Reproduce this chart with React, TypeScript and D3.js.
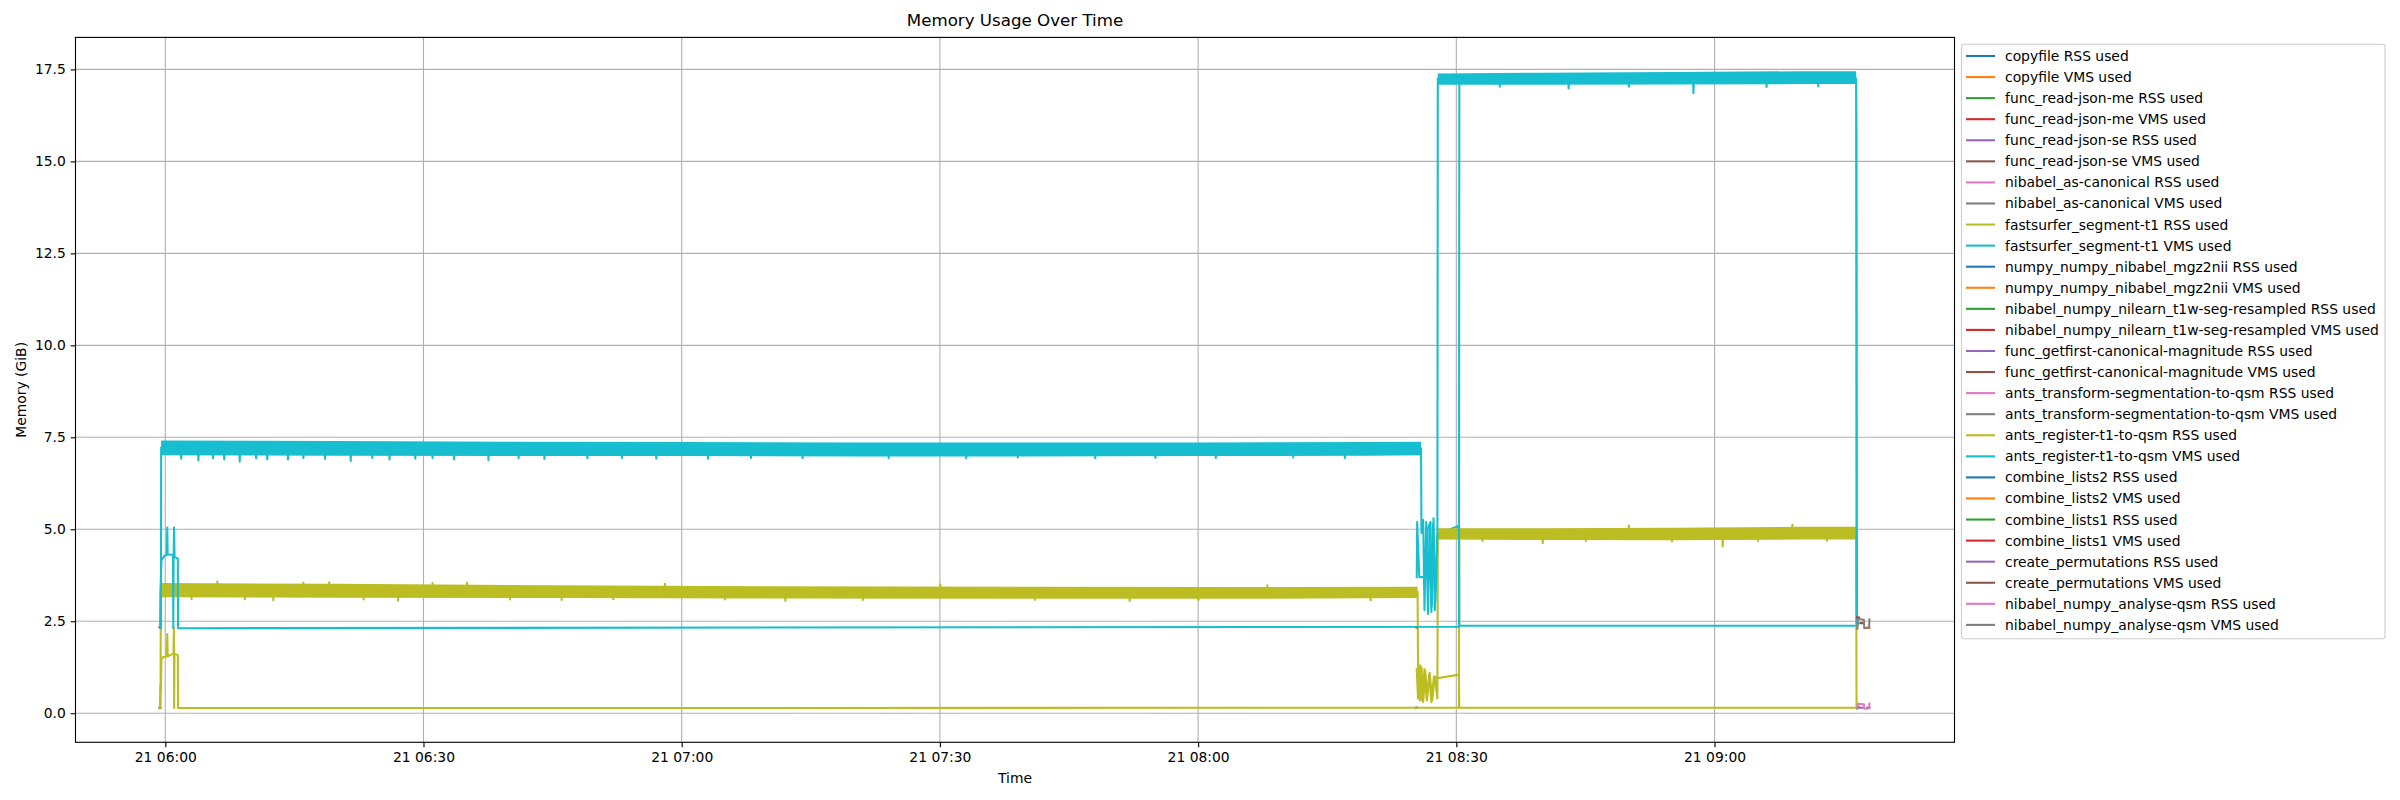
import { useEffect, useRef } from 'react'
import * as d3 from 'd3'

// [minutes after 06:00, GiB]
type Pt = [number, number]
// [minutes after 06:00, low GiB, high GiB] — envelope of a densely sampled, jittery stretch
type BandPt = [number, number, number]

const startTime = new Date(2024, 4, 21, 6, 0, 0)
const GAP: Pt = [NaN, NaN]

const xTickMinutes = [0, 30, 60, 90, 120, 150, 180]
const yTicks = [0, 2.5, 5, 7.5, 10, 12.5, 15, 17.5]

const palette = ['#1f77b4', '#ff7f0e', '#2ca02c', '#d62728', '#9467bd', '#8c564b', '#e377c2', '#7f7f7f', '#bcbd22', '#17becf']

const labels = [
  'copyfile RSS used',
  'copyfile VMS used',
  'func_read-json-me RSS used',
  'func_read-json-me VMS used',
  'func_read-json-se RSS used',
  'func_read-json-se VMS used',
  'nibabel_as-canonical RSS used',
  'nibabel_as-canonical VMS used',
  'fastsurfer_segment-t1 RSS used',
  'fastsurfer_segment-t1 VMS used',
  'numpy_numpy_nibabel_mgz2nii RSS used',
  'numpy_numpy_nibabel_mgz2nii VMS used',
  'nibabel_numpy_nilearn_t1w-seg-resampled RSS used',
  'nibabel_numpy_nilearn_t1w-seg-resampled VMS used',
  'func_getfirst-canonical-magnitude RSS used',
  'func_getfirst-canonical-magnitude VMS used',
  'ants_transform-segmentation-to-qsm RSS used',
  'ants_transform-segmentation-to-qsm VMS used',
  'ants_register-t1-to-qsm RSS used',
  'ants_register-t1-to-qsm VMS used',
  'combine_lists2 RSS used',
  'combine_lists2 VMS used',
  'combine_lists1 RSS used',
  'combine_lists1 VMS used',
  'create_permutations RSS used',
  'create_permutations VMS used',
  'nibabel_numpy_analyse-qsm RSS used',
  'nibabel_numpy_analyse-qsm VMS used',
]

const copyfileRss: Pt[] = [[-0.64, 0.14], [-0.6, 0.14]]
const copyfileVms: Pt[] = [[-0.64, 2.33], [-0.6, 2.33]]
const readJsonMeRss: Pt[] = [[-0.68, 0.14], [-0.6, 0.15]]
const readJsonMeVms: Pt[] = [[-0.68, 2.34], [-0.6, 2.36]]
const readJsonSeRss: Pt[] = [[-0.6, 0.14], [-0.57, 0.14]]
const readJsonSeVms: Pt[] = [[-0.6, 2.32], [-0.57, 2.32]]
const asCanonicalRss: Pt[] = [[-0.59, 0.14], [-0.56, 0.14]]
const asCanonicalVms: Pt[] = [[-0.59, 2.32], [-0.56, 2.32]]

const fastsurferRss: Pt[] = [
  [-0.55, 0.14], [-0.52, 3.35],
  [3.0, 3.34], [3.05, 3.1], [3.1, 3.34],
  [6.0, 3.34], [6.05, 3.58], [6.1, 3.34],
  [9.2, 3.34], [9.25, 3.1], [9.3, 3.34],
  [12.5, 3.33], [12.55, 3.07], [12.6, 3.33],
  [16.0, 3.33], [16.05, 3.55], [16.1, 3.33],
  [19.0, 3.33], [19.05, 3.56], [19.1, 3.33],
  [23.0, 3.32], [23.05, 3.09], [23.1, 3.32],
  [27.0, 3.32], [27.05, 3.06], [27.1, 3.32],
  [31.0, 3.32], [31.05, 3.54], [31.1, 3.32],
  [35.0, 3.32], [35.05, 3.55], [35.1, 3.32],
  [40.0, 3.31], [40.05, 3.09], [40.1, 3.31],
  [46.0, 3.31], [46.05, 3.08], [46.1, 3.31],
  [52.0, 3.3], [52.05, 3.1], [52.1, 3.3],
  [58.0, 3.3], [58.05, 3.52], [58.1, 3.3],
  [65.0, 3.29], [65.05, 3.09], [65.1, 3.29],
  [72.0, 3.29], [72.05, 3.05], [72.1, 3.29],
  [81.0, 3.28], [81.05, 3.08], [81.1, 3.28],
  [90.0, 3.28], [90.05, 3.5], [90.1, 3.28],
  [101.0, 3.27], [101.05, 3.08], [101.1, 3.27],
  [112.0, 3.27], [112.05, 3.05], [112.1, 3.27],
  [120.0, 3.27], [120.05, 3.08], [120.1, 3.27],
  [128.0, 3.27], [128.05, 3.48], [128.1, 3.27],
  [140.0, 3.27], [140.05, 3.07], [140.1, 3.27],
  [145.5, 3.3], [145.55, 1.3], [145.75, 0.35], [145.95, 1.25], [146.15, 0.3], [146.4, 1.15],
  [146.6, 0.35], [146.85, 1.05], [147.1, 0.3], [147.4, 1.0], [147.8, 0.95],
  [150.3, 1.05], [150.35, 0.15], [196.55, 0.15],
]
const fastsurferRssBand: BandPt[] = [
  [-0.52, 3.15, 3.54], [20, 3.14, 3.52], [45, 3.13, 3.48], [70, 3.12, 3.45],
  [100, 3.11, 3.44], [125, 3.11, 3.43], [145.5, 3.13, 3.44],
]

const fastsurferVms: Pt[] = [
  [-0.5, 2.32], [-0.48, 7.22],
  [1.8, 7.2], [1.85, 6.92], [1.9, 7.2],
  [3.8, 7.2], [3.85, 6.87], [3.9, 7.2],
  [5.5, 7.2], [5.55, 6.93], [5.6, 7.2],
  [6.8, 7.2], [6.85, 6.9], [6.9, 7.2],
  [8.6, 7.2], [8.65, 6.84], [8.7, 7.2],
  [10.5, 7.2], [10.55, 6.93], [10.6, 7.2],
  [11.8, 7.2], [11.85, 6.9], [11.9, 7.2],
  [14.2, 7.2], [14.25, 6.9], [14.3, 7.2],
  [16.0, 7.2], [16.05, 6.94], [16.1, 7.2],
  [18.5, 7.2], [18.55, 6.91], [18.6, 7.2],
  [21.5, 7.2], [21.55, 6.86], [21.6, 7.2],
  [24.0, 7.2], [24.05, 6.94], [24.1, 7.2],
  [26.0, 7.2], [26.05, 6.9], [26.1, 7.2],
  [29.0, 7.2], [29.05, 6.92], [29.1, 7.2],
  [31.0, 7.2], [31.05, 6.94], [31.1, 7.2],
  [33.5, 7.2], [33.55, 6.9], [33.6, 7.2],
  [37.5, 7.2], [37.55, 6.88], [37.6, 7.2],
  [41.0, 7.19], [41.05, 6.93], [41.1, 7.19],
  [44.0, 7.19], [44.05, 6.91], [44.1, 7.19],
  [49.0, 7.19], [49.05, 6.93], [49.1, 7.19],
  [53.0, 7.19], [53.05, 6.94], [53.1, 7.19],
  [57.0, 7.18], [57.05, 6.92], [57.1, 7.18],
  [63.0, 7.18], [63.05, 6.92], [63.1, 7.18],
  [68.0, 7.18], [68.05, 6.94], [68.1, 7.18],
  [74.0, 7.17], [74.05, 6.93], [74.1, 7.17],
  [84.0, 7.17], [84.05, 6.94], [84.1, 7.17],
  [93.0, 7.17], [93.05, 6.93], [93.1, 7.17],
  [99.0, 7.17], [99.05, 6.95], [99.1, 7.17],
  [108.0, 7.17], [108.05, 6.93], [108.1, 7.17],
  [115.0, 7.17], [115.05, 6.94], [115.1, 7.17],
  [122.0, 7.17], [122.05, 6.94], [122.1, 7.17],
  [131.0, 7.18], [131.05, 6.95], [131.1, 7.18],
  [137.0, 7.18], [137.05, 6.94], [137.1, 7.18],
  [145.9, 7.2],
  [145.95, 4.9], [146.15, 5.25], [146.3, 2.8], [146.5, 5.2], [146.7, 2.7], [146.9, 5.1],
  [147.1, 2.75], [147.3, 5.15], [147.5, 2.8], [147.8, 4.85],
  [150.3, 5.1], [150.35, 2.38], [196.55, 2.38], [196.6, 2.45],
]
const fastsurferVmsBand: BandPt[] = [
  [-0.48, 7.01, 7.41], [20, 7.0, 7.4], [40, 6.99, 7.38], [60, 6.99, 7.37],
  [80, 6.98, 7.36], [100, 6.98, 7.36], [120, 6.99, 7.36], [140, 7.0, 7.37], [145.9, 7.01, 7.38],
]

const mgz2niiRss: Pt[] = [[145.3, 0.15], [145.35, 0.15]]
const mgz2niiVms: Pt[] = [[145.3, 2.34], [145.35, 2.34]]
const nilearnRss: Pt[] = [[145.35, 0.15], [145.4, 0.15]]
const nilearnVms: Pt[] = [[145.35, 2.34], [145.4, 2.34]]
const getfirstRss: Pt[] = [[145.4, 0.15], [145.45, 0.15]]
const getfirstVms: Pt[] = [[145.4, 2.34], [145.45, 2.34]]
const antsTransformRss: Pt[] = [[196.55, 0.16], [196.75, 0.18]]
const antsTransformVms: Pt[] = [[196.55, 2.42], [196.75, 2.45]]

const antsRegisterRss: Pt[] = [
  [-0.62, 0.14], [-0.57, 0.75], [-0.52, 0.55], [-0.45, 1.45], [-0.3, 1.52], [0.18, 1.55],
  [0.23, 2.15], [0.28, 1.55], [0.95, 1.62], [1.0, 2.32], [1.03, 0.14], [1.07, 1.62],
  [1.46, 1.58], [1.48, 0.14],
  [150.3, 0.15], [150.35, 4.9], [196.45, 4.9], [196.5, 0.15],
  GAP,
  [145.4, 1.2], [145.55, 0.4], [145.8, 1.3], [146.0, 0.35], [146.3, 1.2], [146.55, 0.4],
  [146.9, 1.1], [147.2, 0.35], [147.5, 1.0], [147.8, 0.4], [147.85, 4.9],
  [153.0, 4.9], [153.05, 4.68], [153.1, 4.9],
  [160.0, 4.9], [160.05, 4.62], [160.1, 4.9],
  [165.0, 4.9], [165.05, 4.68], [165.1, 4.9],
  [170.0, 4.9], [170.05, 5.1], [170.1, 4.9],
  [175.0, 4.9], [175.05, 4.67], [175.1, 4.9],
  [180.9, 4.9], [180.95, 4.53], [181.0, 4.9],
  [185.0, 4.9], [185.05, 4.68], [185.1, 4.9],
  [189.0, 4.9], [189.05, 5.12], [189.1, 4.9],
  [193.0, 4.9], [193.05, 4.69], [193.1, 4.9],
  [196.45, 4.9], [196.5, 0.15],
]
const antsRegisterRssBand: BandPt[] = [
  [147.85, 4.72, 5.03], [160, 4.71, 5.03], [175, 4.7, 5.04], [190, 4.72, 5.07], [196.45, 4.72, 5.07],
]

const antsRegisterVms: Pt[] = [
  [-0.6, 2.32], [-0.55, 3.4], [-0.45, 4.15], [-0.1, 4.28], [0.18, 4.3], [0.23, 5.05], [0.28, 4.32],
  [0.9, 4.3], [0.93, 2.32], [0.97, 4.3], [1.02, 5.05], [1.08, 4.25], [1.46, 4.2], [1.48, 2.31],
  [150.3, 2.35], [150.35, 17.2], [196.45, 17.25], [196.5, 2.45],
  GAP,
  [145.4, 3.7], [145.45, 5.2], [145.7, 3.7], [146.6, 3.7], [146.65, 5.0], [147.0, 5.2],
  [147.15, 2.9], [147.35, 5.3], [147.55, 3.0], [147.8, 4.9], [147.85, 17.25],
  [155.0, 17.25], [155.05, 17.03], [155.1, 17.25],
  [163.0, 17.25], [163.05, 16.98], [163.1, 17.25],
  [170.0, 17.25], [170.05, 17.03], [170.1, 17.25],
  [177.5, 17.25], [177.55, 16.85], [177.6, 17.25],
  [186.0, 17.26], [186.05, 17.02], [186.1, 17.26],
  [192.0, 17.26], [192.05, 17.04], [192.1, 17.26],
  [196.45, 17.25], [196.5, 15.5], [196.55, 2.4],
]
const antsRegisterVmsBand: BandPt[] = [
  [147.85, 17.08, 17.39], [160, 17.08, 17.41], [175, 17.09, 17.43], [190, 17.1, 17.45], [196.45, 17.1, 17.45],
]

const combineLists2Rss: Pt[] = [[197.75, 0.15], [198.0, 0.15]]
const combineLists2Vms: Pt[] = [[197.75, 2.32], [198.0, 2.32]]
const combineLists1Rss: Pt[] = [[196.6, 0.15], [196.8, 0.15]]
const combineLists1Vms: Pt[] = [[196.55, 2.6], [196.8, 2.6]]
const createPermutationsRss: Pt[] = [[197.0, 0.15], [197.2, 0.15]]
const createPermutationsVms: Pt[] = [[197.0, 2.45], [197.2, 2.45]]
const analyseQsmRss: Pt[] = [[196.6, 0.12], [196.65, 0.26], [197.35, 0.24], [197.4, 0.12], [197.95, 0.13], [198.0, 0.26]]
const analyseQsmVms: Pt[] = [[196.6, 2.3], [196.65, 2.56], [197.35, 2.54], [197.4, 2.31], [197.95, 2.33], [198.0, 2.55]]

const seriesPoints: Pt[][] = [
  copyfileRss, copyfileVms, readJsonMeRss, readJsonMeVms, readJsonSeRss, readJsonSeVms,
  asCanonicalRss, asCanonicalVms, fastsurferRss, fastsurferVms, mgz2niiRss, mgz2niiVms,
  nilearnRss, nilearnVms, getfirstRss, getfirstVms, antsTransformRss, antsTransformVms,
  antsRegisterRss, antsRegisterVms, combineLists2Rss, combineLists2Vms, combineLists1Rss,
  combineLists1Vms, createPermutationsRss, createPermutationsVms, analyseQsmRss, analyseQsmVms,
]
const seriesBands: Record<number, BandPt[]> = {
  8: fastsurferRssBand,
  9: fastsurferVmsBand,
  18: antsRegisterRssBand,
  19: antsRegisterVmsBand,
}

const FONT = 'DejaVu Sans'

export default function App() {
  const svgRef = useRef<SVGSVGElement>(null)

  useEffect(() => {
    if (!svgRef.current) return
    const svg = d3.select(svgRef.current)
    svg.selectAll('*').remove()

    const width = 2400
    const height = 800
    const margin = { top: 37.4, right: 445.5, bottom: 57.7, left: 75.5 }
    const plotW = width - margin.left - margin.right
    const plotH = height - margin.top - margin.bottom

    const toDate = (m: number) => new Date(startTime.getTime() + m * 60000)

    const xScale = d3.scaleTime().domain([toDate(-10.43), toDate(207.88)]).range([0, plotW])
    const yScale = d3.scaleLinear().domain([-0.79, 18.37]).range([plotH, 0])

    svg.append('rect').attr('width', width).attr('height', height).attr('fill', '#fff')

    const g = svg.append('g').attr('transform', `translate(${margin.left},${margin.top})`)

    // grid
    g.append('g')
      .selectAll('line')
      .data(xTickMinutes)
      .join('line')
      .attr('x1', (d) => xScale(toDate(d)))
      .attr('x2', (d) => xScale(toDate(d)))
      .attr('y1', 0)
      .attr('y2', plotH)
      .attr('stroke', '#b0b0b0')
      .attr('stroke-width', 1.11)
    g.append('g')
      .selectAll('line')
      .data(yTicks)
      .join('line')
      .attr('x1', 0)
      .attr('x2', plotW)
      .attr('y1', (d) => yScale(d))
      .attr('y2', (d) => yScale(d))
      .attr('stroke', '#b0b0b0')
      .attr('stroke-width', 1.11)

    svg.append('defs').append('clipPath').attr('id', 'plot-clip')
      .append('rect').attr('width', plotW).attr('height', plotH)

    const lines = g.append('g').attr('clip-path', 'url(#plot-clip)')

    const line = d3
      .line<Pt>()
      .defined((d) => !isNaN(d[1]))
      .x((d) => xScale(toDate(d[0])))
      .y((d) => yScale(d[1]))

    const area = d3
      .area<BandPt>()
      .x((d) => xScale(toDate(d[0])))
      .y0((d) => yScale(d[1]))
      .y1((d) => yScale(d[2]))

    seriesPoints.forEach((pts, i) => {
      const color = palette[i % 10]
      const band = seriesBands[i]
      if (band) {
        lines.append('path').datum(band).attr('fill', color).attr('d', area)
      }
      lines
        .append('path')
        .datum(pts)
        .attr('fill', 'none')
        .attr('stroke', color)
        .attr('stroke-width', 2.08)
        .attr('stroke-linejoin', 'round')
        .attr('stroke-linecap', 'square')
        .attr('d', line)
    })

    // axes
    const xAxis = d3
      .axisBottom(xScale)
      .tickValues(xTickMinutes.map(toDate))
      .tickFormat((d) => d3.timeFormat('%d %H:%M')(d as Date))
      .tickSize(4.86)
      .tickPadding(4.86)
      .tickSizeOuter(0)
    const xg = g.append('g').attr('transform', `translate(0,${plotH})`).call(xAxis)
    xg.select('.domain').remove()

    const yAxis = d3
      .axisLeft(yScale)
      .tickValues(yTicks)
      .tickFormat((d) => d3.format('.1f')(d as number))
      .tickSize(4.86)
      .tickPadding(4.86)
      .tickSizeOuter(0)
    const yg = g.append('g').call(yAxis)
    yg.select('.domain').remove()

    ;[xg, yg].forEach((a) => {
      a.attr('font-family', FONT).attr('font-size', 13.89)
      a.selectAll('line').attr('stroke', '#000').attr('stroke-width', 1.11)
      a.selectAll('text').attr('fill', '#000')
    })

    // spines
    g.append('rect')
      .attr('width', plotW)
      .attr('height', plotH)
      .attr('fill', 'none')
      .attr('stroke', '#000')
      .attr('stroke-width', 1.11)

    // title and axis labels
    svg.append('text')
      .attr('x', margin.left + plotW / 2)
      .attr('y', 26)
      .attr('text-anchor', 'middle')
      .attr('font-family', FONT)
      .attr('font-size', 16.67)
      .text('Memory Usage Over Time')

    svg.append('text')
      .attr('x', margin.left + plotW / 2)
      .attr('y', 783)
      .attr('text-anchor', 'middle')
      .attr('font-family', FONT)
      .attr('font-size', 13.89)
      .text('Time')

    svg.append('text')
      .attr('transform', `translate(26,${margin.top + plotH / 2}) rotate(-90)`)
      .attr('text-anchor', 'middle')
      .attr('font-family', FONT)
      .attr('font-size', 13.89)
      .text('Memory (GiB)')

    // legend
    const lg = svg.append('g').attr('transform', 'translate(1961.5,44.3)')
    lg.append('rect')
      .attr('width', 423.5)
      .attr('height', 594.5)
      .attr('rx', 2.8)
      .attr('fill', '#fff')
      .attr('fill-opacity', 0.8)
      .attr('stroke', '#cccccc')
      .attr('stroke-width', 1.1)

    const items = lg
      .selectAll('g.item')
      .data(labels)
      .join('g')
      .attr('class', 'item')
      .attr('transform', (_, i) => `translate(0,${11.7 + i * 21.07})`)

    items.append('line')
      .attr('x1', 4.5)
      .attr('x2', 33.5)
      .attr('stroke', (_, i) => palette[i % 10])
      .attr('stroke-width', 2.08)

    items.append('text')
      .attr('x', 43.5)
      .attr('y', 5)
      .attr('font-family', FONT)
      .attr('font-size', 13.89)
      .attr('fill', '#000')
      .text((d) => d)
  }, [])

  return (
    <div style={{ position: 'absolute', left: 0, top: 0 }}>
      <svg ref={svgRef} width={2400} height={800} style={{ display: 'block' }}></svg>
    </div>
  )
}
